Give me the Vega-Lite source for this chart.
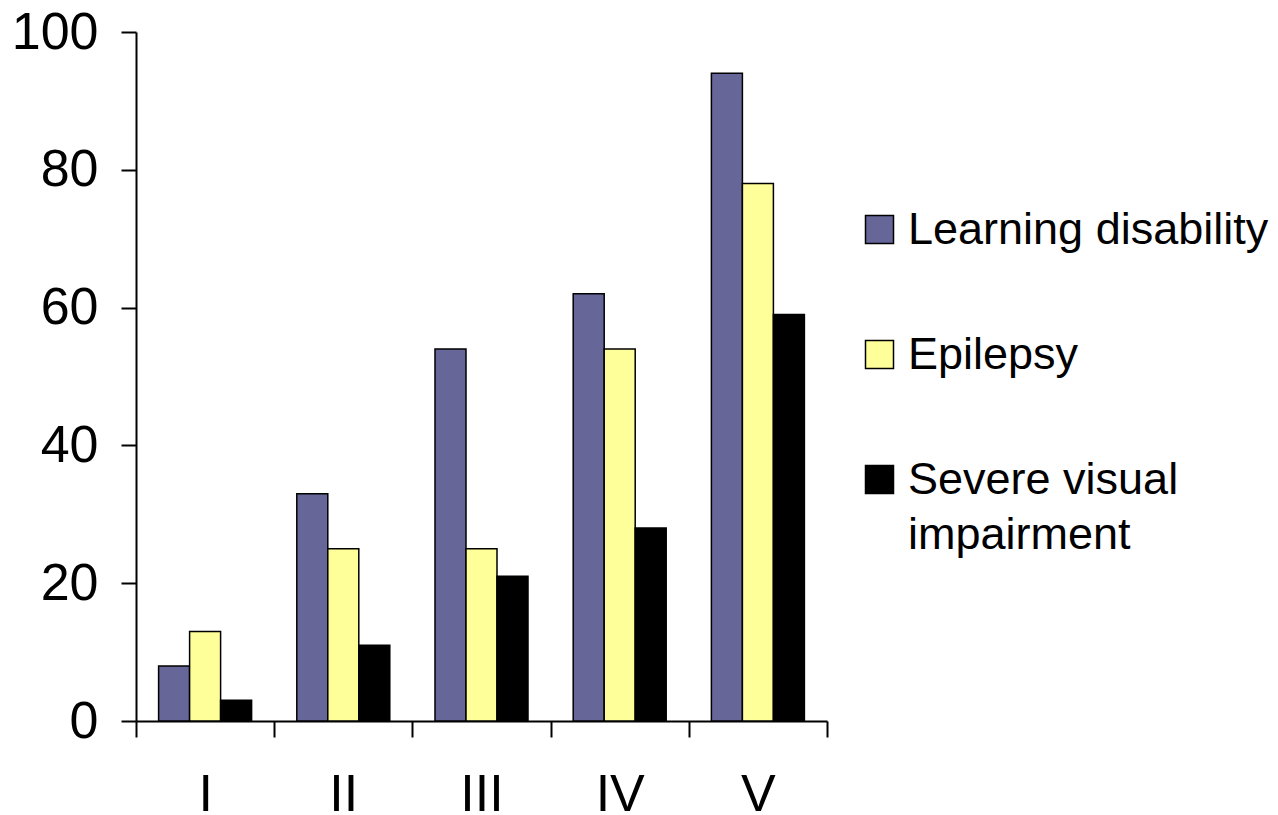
{
  "$schema": "https://vega.github.io/schema/vega-lite/v6.json",
  "width": 691,
  "height": 689,
  "autosize": {"type": "none"},
  "padding": {"left": 136, "top": 32, "right": 451, "bottom": 94},
  "config": {"view": {"stroke": null}, "font": "Liberation Sans", "background": "white",
    "style": {"guide-label": {"lineHeight": 55}}},
  "data": {"values": [
    {"group": "I", "cond": "Learning disability", "value": 8},
    {"group": "I", "cond": "Epilepsy", "value": 13},
    {"group": "I", "cond": "Severe visual impairment", "value": 3},
    {"group": "II", "cond": "Learning disability", "value": 33},
    {"group": "II", "cond": "Epilepsy", "value": 25},
    {"group": "II", "cond": "Severe visual impairment", "value": 11},
    {"group": "III", "cond": "Learning disability", "value": 54},
    {"group": "III", "cond": "Epilepsy", "value": 25},
    {"group": "III", "cond": "Severe visual impairment", "value": 21},
    {"group": "IV", "cond": "Learning disability", "value": 62},
    {"group": "IV", "cond": "Epilepsy", "value": 54},
    {"group": "IV", "cond": "Severe visual impairment", "value": 28},
    {"group": "V", "cond": "Learning disability", "value": 94},
    {"group": "V", "cond": "Epilepsy", "value": 78},
    {"group": "V", "cond": "Severe visual impairment", "value": 59}
  ]},
  "mark": {"type": "bar", "stroke": "black", "strokeWidth": 1.5},
  "encoding": {
    "x": {
      "field": "group", "type": "nominal", "sort": ["I", "II", "III", "IV", "V"],
      "scale": {"paddingInner": 0, "paddingOuter": 0},
      "axis": {"title": null, "labelAngle": 0, "labelFontSize": 52, "labelColor": "black",
        "domainColor": "black", "domainWidth": 2, "tickColor": "black", "tickWidth": 2,
        "tickSize": 16, "tickBand": "extent", "labelPadding": 32}
    },
    "xOffset": {
      "field": "cond", "type": "nominal",
      "sort": ["Learning disability", "Epilepsy", "Severe visual impairment"],
      "scale": {"paddingInner": 0, "paddingOuter": 0.729}
    },
    "y": {
      "field": "value", "type": "quantitative",
      "scale": {"domain": [0, 100]},
      "axis": {"title": null, "values": [0, 20, 40, 60, 80, 100], "grid": false,
        "labelFontSize": 52, "labelColor": "black", "domainColor": "black", "domainWidth": 2,
        "tickColor": "black", "tickWidth": 2, "tickSize": 15, "labelPadding": 23}
    },
    "color": {
      "field": "cond", "type": "nominal",
      "sort": ["Learning disability", "Epilepsy", "Severe visual impairment"],
      "scale": {"domain": ["Learning disability", "Epilepsy", "Severe visual impairment"],
        "range": ["#666699", "#FFFF99", "#000000"]},
      "legend": {"title": null, "orient": "none", "legendX": 721, "legendY": 175,
        "symbolType": "square", "symbolSize": 784, "symbolStrokeColor": "black",
        "symbolStrokeWidth": 1.5, "labelFontSize": 45, "labelColor": "black",
        "labelOffset": 6, "rowPadding": 79, "labelLimit": 500,
        "labelExpr": "datum.label == 'Severe visual impairment' ? ['Severe visual', 'impairment'] : datum.label"}
    }
  }
}
